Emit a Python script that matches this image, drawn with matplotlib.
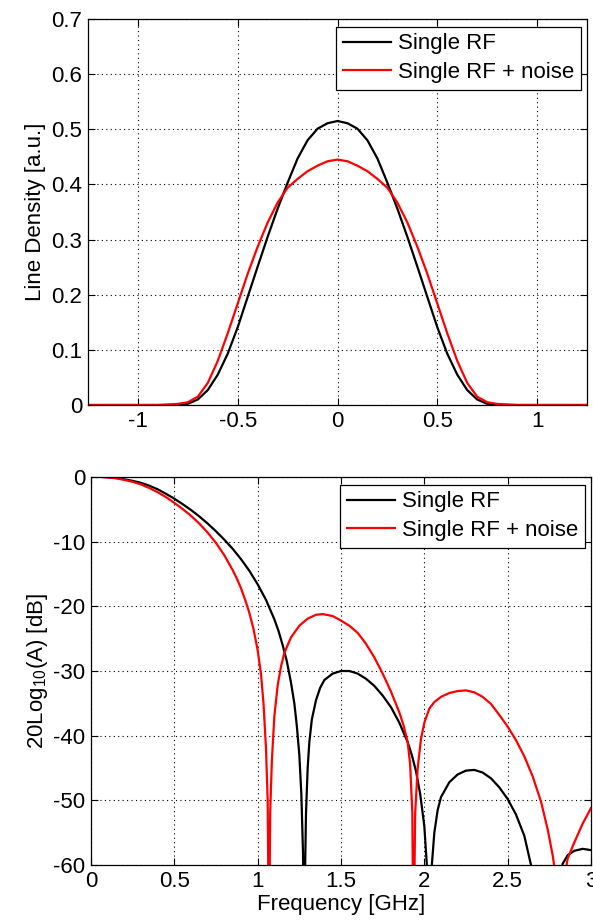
import matplotlib
matplotlib.use("Agg")
import matplotlib.pyplot as plt

plt.rcParams["font.family"] = ["Liberation Sans", "DejaVu Sans"]
plt.rcParams["axes.unicode_minus"] = False
plt.rcParams["mathtext.fontset"] = "custom"
plt.rcParams["mathtext.rm"] = "Liberation Sans"

# top panel: line density profiles
t = [-1.25, -0.9, -0.85, -0.8, -0.75, -0.7, -0.65, -0.6, -0.55, -0.5, -0.45,
     -0.4, -0.35, -0.3, -0.25, -0.2, -0.15, -0.1, -0.05, 0.0, 0.05, 0.1, 0.15,
     0.2, 0.25, 0.3, 0.35, 0.4, 0.45, 0.5, 0.55, 0.6, 0.65, 0.7, 0.75, 0.8,
     0.85, 0.9, 1.25]
dens_single = [0, 0, 0, 0, 0.002, 0.010, 0.027, 0.055, 0.093, 0.141, 0.196,
               0.251, 0.305, 0.356, 0.403, 0.447, 0.480, 0.501, 0.511, 0.515,
               0.511, 0.501, 0.480, 0.447, 0.403, 0.356, 0.305, 0.251, 0.196,
               0.141, 0.093, 0.055, 0.027, 0.010, 0.002, 0, 0, 0, 0]
dens_noise = [0, 0, 0.001, 0.002, 0.005, 0.015, 0.040, 0.080, 0.130, 0.184,
              0.238, 0.287, 0.331, 0.367, 0.394, 0.410, 0.424, 0.434, 0.442,
              0.445, 0.442, 0.434, 0.424, 0.410, 0.394, 0.367, 0.331, 0.287,
              0.238, 0.184, 0.130, 0.080, 0.040, 0.015, 0.005, 0.002, 0.001,
              0, 0]

# bottom panel: spectra
f_single = [0.07, 0.1, 0.15, 0.2, 0.25, 0.3, 0.35, 0.4, 0.45, 0.5, 0.55, 0.6,
            0.65, 0.7, 0.75, 0.8, 0.85, 0.9, 0.95, 1.0, 1.05, 1.1, 1.125, 1.15,
            1.175, 1.2, 1.22, 1.235, 1.25, 1.262, 1.272, 1.278, 1.285, 1.29,
            1.3, 1.31, 1.325, 1.35, 1.375, 1.4, 1.45, 1.5, 1.55, 1.6, 1.65,
            1.7, 1.75, 1.8, 1.85, 1.9, 1.925, 1.95, 1.975, 2.0, 2.015, 2.03,
            2.045, 2.06, 2.08, 2.1, 2.15, 2.2, 2.25, 2.3, 2.35, 2.4, 2.45, 2.5,
            2.55, 2.6, 2.64, 2.73, 2.81, 2.83, 2.86, 2.9, 2.95, 3.0]
db_single = [0, -0.05, -0.15, -0.35, -0.6, -0.9, -1.35, -1.9, -2.6, -3.35,
             -4.2, -5.1, -6.1, -7.2, -8.4, -9.7, -11.1, -12.7, -14.5, -16.6,
             -19.0, -22.0, -23.8, -26.0, -28.5, -31.8, -35.0, -38.5, -43,
             -49, -58, -75, -60, -52, -45, -41, -37.5, -34.5, -32.6, -31.4,
             -30.4, -30.0, -30.0, -30.4, -31.2, -32.3, -33.8, -35.6, -38.0,
             -41.0, -43.0, -45.5, -49.0, -54, -60, -75, -60, -55, -51.5,
             -49.5, -47.2, -46.0, -45.4, -45.3, -45.7, -46.6, -48.0, -49.8,
             -52.2, -55.5, -60, -75, -62, -59.8, -58.5, -57.8, -57.5, -57.7]
f_noise = [0.07, 0.1, 0.15, 0.2, 0.25, 0.3, 0.35, 0.4, 0.45, 0.5, 0.55, 0.6,
           0.65, 0.7, 0.75, 0.8, 0.85, 0.875, 0.9, 0.925, 0.95, 0.975, 1.0,
           1.02, 1.035, 1.05, 1.06, 1.068, 1.075, 1.085, 1.1, 1.12, 1.14, 1.16,
           1.2, 1.25, 1.3, 1.35, 1.39, 1.45, 1.5, 1.55, 1.6, 1.65, 1.7, 1.75,
           1.8, 1.85, 1.875, 1.9, 1.915, 1.928, 1.935, 1.945, 1.96, 1.98, 2.0,
           2.03, 2.06, 2.1, 2.15, 2.2, 2.25, 2.3, 2.35, 2.4, 2.45, 2.5, 2.55,
           2.6, 2.65, 2.7, 2.74, 2.77, 2.79, 2.815, 2.84, 2.86, 2.9, 2.95, 3.0]
db_noise = [0, -0.05, -0.2, -0.45, -0.75, -1.15, -1.7, -2.35, -3.1, -4.0,
            -4.95, -6.0, -7.2, -8.6, -10.2, -12.1, -14.4, -15.7, -17.2, -19.0,
            -21.0, -23.5, -26.8, -30.5, -35, -42, -50, -75, -52, -44, -37,
            -32.2, -29.3, -27.2, -24.8, -23.0, -21.9, -21.3, -21.2, -21.5,
            -22.2, -23.0, -24.1, -25.8, -27.9, -30.4, -33.2, -36.4, -38.4,
            -41.0, -44.5, -52, -75, -52, -45, -40.5, -38.0, -35.8, -34.8,
            -34.0, -33.4, -33.1, -33.0, -33.3, -34.0, -35.1, -36.8, -38.6,
            -40.7, -43.2, -46.3, -50.2, -54.5, -58.5, -62, -75, -62, -59,
            -56.5, -53.6, -51.2]

labels = ["Single RF", "Single RF + noise"]
colors = ["black", "red"]
FS = 16

fig = plt.figure(figsize=(5.93, 9.21), dpi=100)
W, H = 593, 921
ax1 = fig.add_axes([88 / W, 1 - 405 / H, (587 - 88) / W, (405 - 19) / H])
ax2 = fig.add_axes([91 / W, 1 - 865 / H, (591 - 91) / W, (865 - 477) / H])

ax1.plot(t, dens_single, color=colors[0], lw=1.6, label=labels[0])
ax1.plot(t, dens_noise, color=colors[1], lw=1.6, label=labels[1])
ax1.set_xlim(-1.25, 1.25)
ax1.set_ylim(0, 0.7)
ax1.set_xticks([-1, -0.5, 0, 0.5, 1])
ax1.set_xticklabels(["-1", "-0.5", "0", "0.5", "1"])
ax1.set_yticks([0, 0.1, 0.2, 0.3, 0.4, 0.5, 0.6, 0.7])
ax1.set_yticklabels(["0", "0.1", "0.2", "0.3", "0.4", "0.5", "0.6", "0.7"])
ax1.set_ylabel("Line Density [a.u.]", fontsize=FS, labelpad=4)

ax2.plot(f_single, db_single, color=colors[0], lw=1.6, label=labels[0])
ax2.plot(f_noise, db_noise, color=colors[1], lw=1.6, label=labels[1])
ax2.set_xlim(0, 3)
ax2.set_ylim(-60, 0)
ax2.set_xticks([0, 0.5, 1, 1.5, 2, 2.5, 3])
ax2.set_xticklabels(["0", "0.5", "1", "1.5", "2", "2.5", "3"])
ax2.set_yticks([-60, -50, -40, -30, -20, -10, 0])
ax2.set_yticklabels(["-60", "-50", "-40", "-30", "-20", "-10", "0"])
ax2.set_xlabel("Frequency [GHz]", fontsize=FS, labelpad=2)
ax2.set_ylabel(r"20Log$_{\mathregular{10}}$(A) [dB]", fontsize=FS, labelpad=2)

for ax in (ax1, ax2):
    ax.grid(True, color="black", linestyle=(0, (1, 3)), linewidth=0.8)
    ax.tick_params(direction="in", length=5, width=0.8, top=True, right=True,
                   labelsize=FS, pad=4)
    for s in ax.spines.values():
        s.set_linewidth(0.9)
    leg = ax.legend(loc="upper right", bbox_to_anchor=(0.988, 0.98),
                    fontsize=FS, fancybox=False, framealpha=1,
                    edgecolor="black", borderpad=0.3, labelspacing=0.35,
                    handlelength=2.2, handletextpad=0.3, borderaxespad=0)
    leg.get_frame().set_linewidth(0.9)

fig.savefig("out.png", dpi=100)
